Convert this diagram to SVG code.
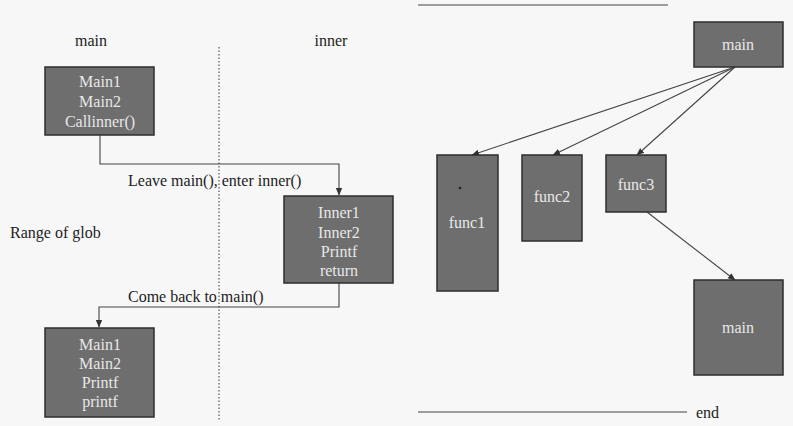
<svg xmlns="http://www.w3.org/2000/svg" width="793" height="426" viewBox="0 0 793 426">
<defs>
<marker id="ah" markerWidth="8" markerHeight="8" refX="7" refY="4" orient="auto" markerUnits="userSpaceOnUse">
<path d="M0,0.8 L7.5,4 L0,7.2 Z" fill="#333"/>
</marker>
<style>
.box{fill:#6e6e6e;stroke:#2e2e2e;stroke-width:1.5}
.bt{font-family:"Liberation Serif",serif;font-size:16px;fill:#e8e8e8;text-anchor:middle}
.lb{font-family:"Liberation Serif",serif;font-size:16px;fill:#222}
.cn{fill:none;stroke:#444;stroke-width:1.1}
</style>
</defs>
<rect width="793" height="426" fill="#f7f7f7"/>
<line x1="219" y1="47" x2="219" y2="421" stroke="#333" stroke-width="1" stroke-dasharray="1.5,2"/>
<text class="lb" x="91" y="46" text-anchor="middle">main</text>
<text class="lb" x="331" y="46" text-anchor="middle">inner</text>
<text class="lb" x="10" y="238">Range of glob</text>
<line x1="418" y1="5" x2="668" y2="5" stroke="#444" stroke-width="1.2"/>
<line x1="418" y1="412" x2="687" y2="412" stroke="#444" stroke-width="1.2"/>
<text class="lb" x="696" y="418">end</text>
<g id="connectors">
<path class="cn" d="M100,135 V164 H339 V195" marker-end="url(#ah)"/>
<path class="cn" d="M339,283 V307 H99 V327" marker-end="url(#ah)"/>
<line class="cn" x1="735" y1="67" x2="472" y2="155" marker-end="url(#ah)"/>
<line class="cn" x1="735" y1="67" x2="553" y2="155" marker-end="url(#ah)"/>
<line class="cn" x1="735" y1="67" x2="637" y2="155" marker-end="url(#ah)"/>
<line class="cn" x1="647" y1="212" x2="735" y2="280" marker-end="url(#ah)"/>
<text class="lb" x="128" y="186">Leave main(), enter inner()</text>
<text class="lb" x="128" y="302">Come back to main()</text>
</g>
<g id="main1">
<rect class="box" x="45" y="67" width="109" height="68"/>
<text class="bt" x="100" y="87">Main1</text>
<text class="bt" x="100" y="107">Main2</text>
<text class="bt" x="100" y="127">Callinner()</text>
</g>
<g id="inner">
<rect class="box" x="284" y="196" width="109" height="87"/>
<text class="bt" x="339" y="218">Inner1</text>
<text class="bt" x="339" y="238">Inner2</text>
<text class="bt" x="339" y="257">Printf</text>
<text class="bt" x="339" y="276">return</text>
</g>
<g id="main2">
<rect class="box" x="45" y="328" width="109" height="89"/>
<text class="bt" x="100" y="350">Main1</text>
<text class="bt" x="100" y="369">Main2</text>
<text class="bt" x="100" y="388">Printf</text>
<text class="bt" x="100" y="407">printf</text>
</g>
<g id="mainTop">
<rect class="box" x="694" y="22" width="89" height="45"/>
<text class="bt" x="738" y="50">main</text>
</g>
<g id="func1">
<rect class="box" x="437" y="155" width="61" height="136"/>
<circle cx="460" cy="188" r="1.3" fill="#222"/>
<text class="bt" x="467" y="228">func1</text>
</g>
<g id="func2">
<rect class="box" x="522" y="155" width="60" height="86"/>
<text class="bt" x="552" y="202">func2</text>
</g>
<g id="func3">
<rect class="box" x="606" y="155" width="60" height="57"/>
<text class="bt" x="636" y="190">func3</text>
</g>
<g id="mainBottom">
<rect class="box" x="694" y="280" width="89" height="95"/>
<text class="bt" x="738" y="333">main</text>
</g>
</svg>
